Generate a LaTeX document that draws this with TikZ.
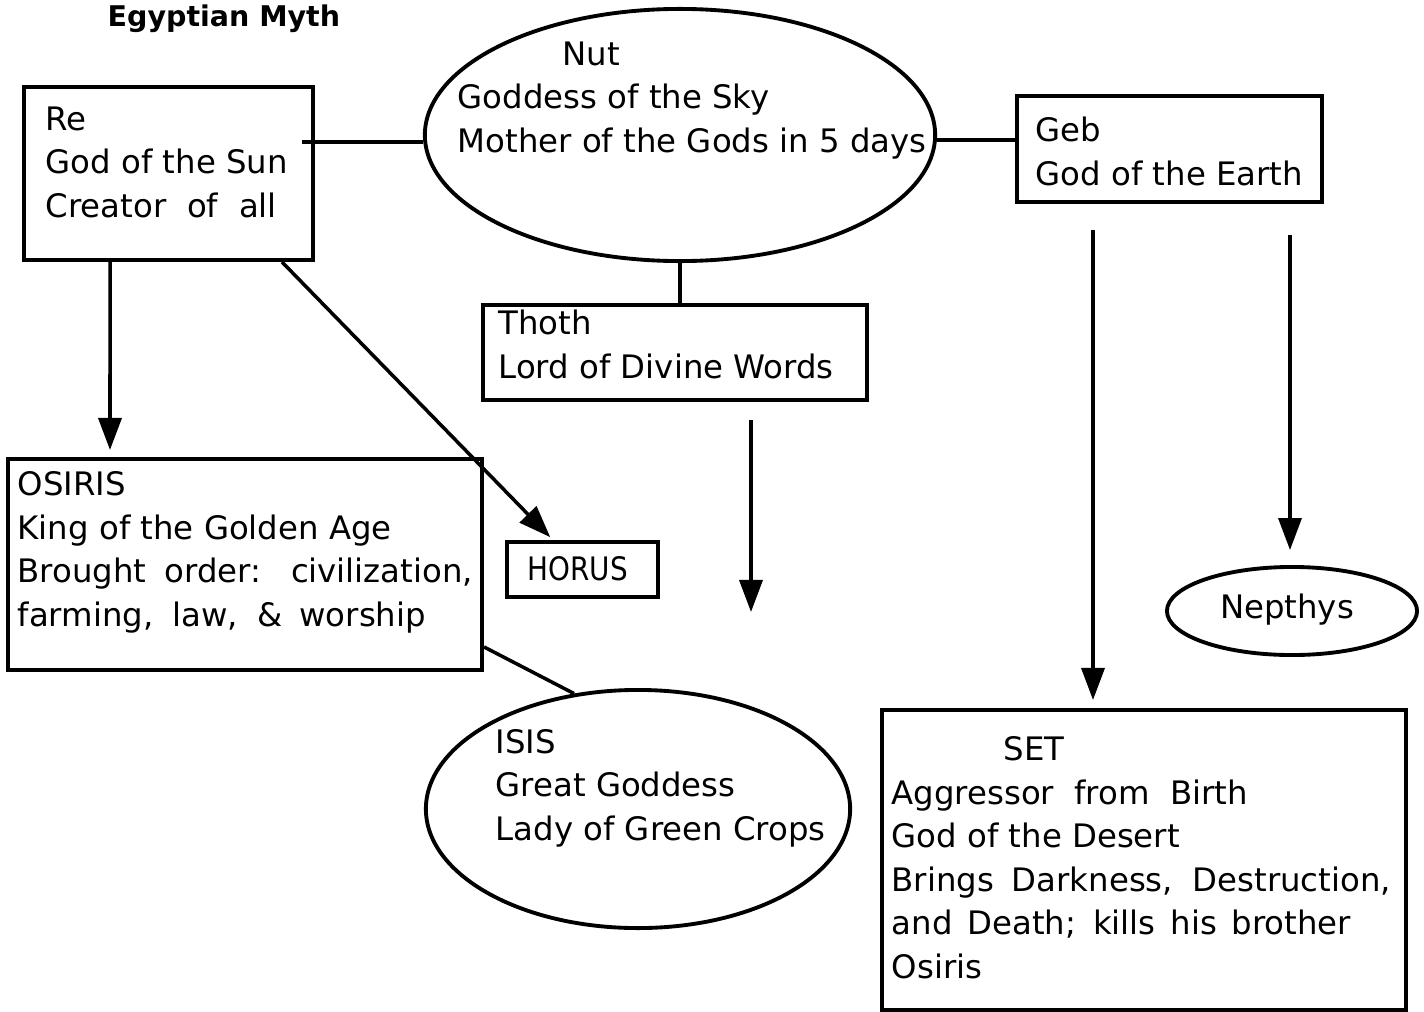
\documentclass[tikz,border=0pt]{standalone}
\usepackage{fontspec}
\setmainfont{DejaVu Sans}
\usepackage{graphicx}
\usetikzlibrary{shapes.geometric, arrows.meta}
\newcommand{\police}{\fontsize{9.2}{12.35}\selectfont}
\newcommand{\etire}[2]{\makebox[#1][s]{#2}}
\tikzset{
  boite/.style={draw, line width=1.1pt, inner sep=0pt},
  bulle/.style={draw, ellipse, line width=1.1pt, inner sep=0pt},
  texte/.style={font=\police, align=left, anchor=base west, inner sep=0pt},
  lien/.style={line width=1pt},
  fleche/.style={line width=1pt, -{Triangle[width=0.23cm, length=0.32cm]}}
}
\begin{document}
\begin{tikzpicture}[x=0.01cm, y=-0.01cm]
    \useasboundingbox (0,0) rectangle (1424,1012);
    % Titre
    \node[texte, font=\fontsize{8.1}{10}\selectfont\bfseries] (titre) at (107,27) {Egyptian Myth};

    % Boîtes
    \node[boite, minimum width=2.89cm, minimum height=1.73cm] (re) at (168.5,173.5) {};
    \node[boite, minimum width=3.05cm, minimum height=1.06cm] (geb) at (1169.5,149) {};
    \node[boite, minimum width=3.84cm, minimum height=0.95cm] (thoth) at (675,352.5) {};
    \node[boite, minimum width=1.51cm, minimum height=0.55cm] (horus) at (582.5,569.5) {};
    \node[boite, minimum width=4.74cm, minimum height=2.11cm] (osiris) at (245,564.5) {};
    \node[boite, minimum width=5.24cm, minimum height=3.00cm] (set) at (1144,860) {};

    % Bulles
    \node[bulle, minimum width=5.10cm, minimum height=2.52cm] (nut) at (680,135) {};
    \node[bulle, minimum width=4.24cm, minimum height=2.38cm] (isis) at (638,809) {};
    \node[bulle, minimum width=2.50cm, minimum height=0.88cm] (nepthys) at (1292,611) {};

    % Textes (placés sur la ligne de base de la dernière ligne)
    \node[texte] (reT) at (45,217) {Re\\God of the Sun\\\etire{2.31cm}{Creator of all}};
    \node[texte] (nutT) at (457,152) {\hspace*{1.05cm}Nut\\Goddess of the Sky\\Mother of the Gods in 5 days};
    \node[texte] (gebT) at (1035,185) {Geb\\God of the Earth};
    \node[texte] (thothT) at (498,378) {Thoth\\Lord of Divine Words};
    \node[texte] (horusT) at (527,580) {\scalebox{0.86}[1]{HORUS}};
    \node[texte] (osirisT) at (17,626) {OSIRIS\\King of the Golden Age\\\etire{4.55cm}{Brought order: civilization,}\\\etire{4.08cm}{farming, law, \& worship}};
    \node[texte] (isisT) at (495,840) {ISIS\\Great Goddess\\Lady of Green Crops};
    \node[texte, anchor=base] (nepthysT) at (1287,618) {Nepthys};
    \node[texte] (setT) at (891,978) {\hspace*{1.12cm}SET\\\etire{3.56cm}{Aggressor from Birth}\\God of the Desert\\\etire{4.99cm}{Brings Darkness, Destruction,}\\\etire{4.59cm}{and Death; kills his brother}\\Osiris};

    % Liens
    \coordinate (nutG) at ([yshift=-0.07cm]nut.west);
    \coordinate (nutD) at ([yshift=-0.05cm]nut.east);
    \draw[lien] ([xshift=-0.13cm]re.east |- nutG) -- (nutG);
    \draw[lien] (nutD) -- (nutD -| geb.west);
    \draw[lien] (nut.south) -- (nut.south |- thoth.north);
    \draw[lien] ([yshift=0.25cm]osiris.south east) -- (isis.119);

    % Flèches
    \draw[fleche, shorten >=0.07cm] ([xshift=0.88cm]re.south west) -- ([xshift=1.04cm]osiris.north west);
    \draw[fleche, shorten >=0.04cm] ([xshift=-0.33cm]re.south east) -- ([xshift=0.48cm]horus.north west);
    \coordinate (thothA) at (751,420);
    \coordinate (thothB) at (751,612);
    \draw[fleche] (thothA) -- (thothB);
    \coordinate (gebA) at (1093,230);
    \coordinate (gebB) at (1290,235);
    \draw[fleche, shorten >=0.08cm] (gebA) -- (gebA |- set.north);
    \draw[fleche, shorten >=0.15cm] (gebB) -- (gebB |- nepthys.north);
\end{tikzpicture}
\end{document}
